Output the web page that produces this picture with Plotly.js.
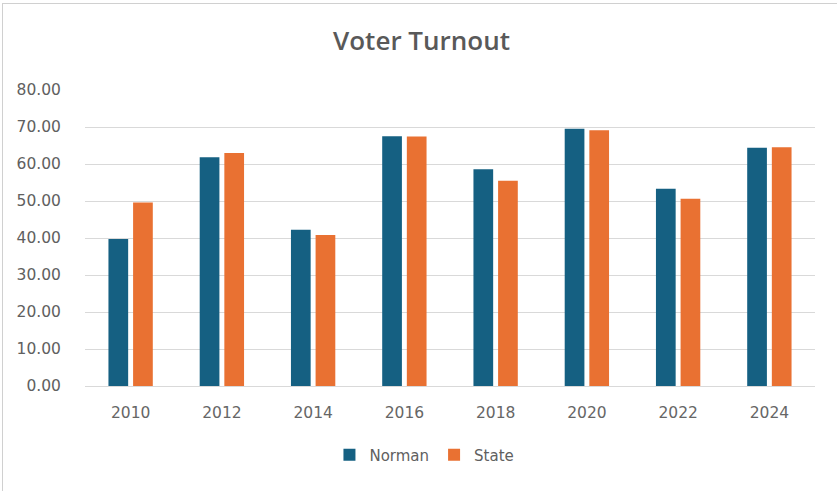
<!DOCTYPE html>
<html>
<head>
<meta charset="utf-8">
<script src="https://cdn.plot.ly/plotly-3.0.1.min.js"></script>
<style>
html,body{margin:0;padding:0;background:#fff;}
#frame{position:absolute;left:2px;top:3px;width:835px;height:488px;border-left:1px solid #d0d0d0;border-top:1px solid #d0d0d0;box-sizing:border-box;}
#chart{position:absolute;left:0;top:0;width:837px;height:491px;}
</style>
</head>
<body>
<div id="frame"></div>
<div id="chart"></div>
<script>
var years = ['2010','2012','2014','2016','2018','2020','2022','2024'];
var norman = [39.7, 61.8, 42.2, 67.5, 58.6, 69.5, 53.3, 64.4];
var state = [49.6, 63.0, 40.8, 67.4, 55.5, 69.1, 50.6, 64.5];
var tickVals = [0,10,20,30,40,50,60,70,80];

var tickFont = '"DejaVu Sans", sans-serif';
var titleFont = '"Open Sans", Lato, sans-serif';
var traces = [
  {type:'bar', name:'Norman', x:years, y:norman, marker:{color:'#156082'}},
  {type:'bar', name:'State', x:years, y:state, marker:{color:'#E97132'}}
];
var layout = {
  width:837, height:491,
  paper_bgcolor:'rgba(0,0,0,0)', plot_bgcolor:'rgba(0,0,0,0)',
  margin:{l:85, r:22, t:90, b:105},
  title:{text:'Voter Turnout', x:0.5036, xanchor:'center', y:0.9165, yanchor:'middle',
         font:{family:titleFont, size:26, color:'#595959', weight:600}},
  barmode:'group', bargap:0.46, bargroupgap:0.2,
  font:{family:tickFont, color:'#595959'},
  xaxis:{type:'category', tickfont:{family:tickFont, size:15.5, color:'#666666'}, showgrid:false,
         showline:true, linecolor:'#d9d9d9', linewidth:1, ticks:'', ticklabelstandoff:12},
  yaxis:{range:[0,80], tickvals:tickVals, tickformat:'.2f', tickfont:{family:tickFont, size:15.5, color:'#606060'},
         showgrid:true, gridcolor:'#d9d9d9', gridwidth:1, zeroline:false, showline:false,
         ticks:'outside', ticklen:20, tickcolor:'rgba(0,0,0,0)', fixedrange:true},
  showlegend:true,
  legend:{orientation:'h', x:0.465, xanchor:'center', y:-0.233, yanchor:'middle',
          font:{family:tickFont, size:15, color:'#606060'}, itemwidth:30, traceorder:'normal'}
};
Plotly.newPlot('chart', traces, layout, {displayModeBar:false, staticPlot:true});
</script>
</body>
</html>
